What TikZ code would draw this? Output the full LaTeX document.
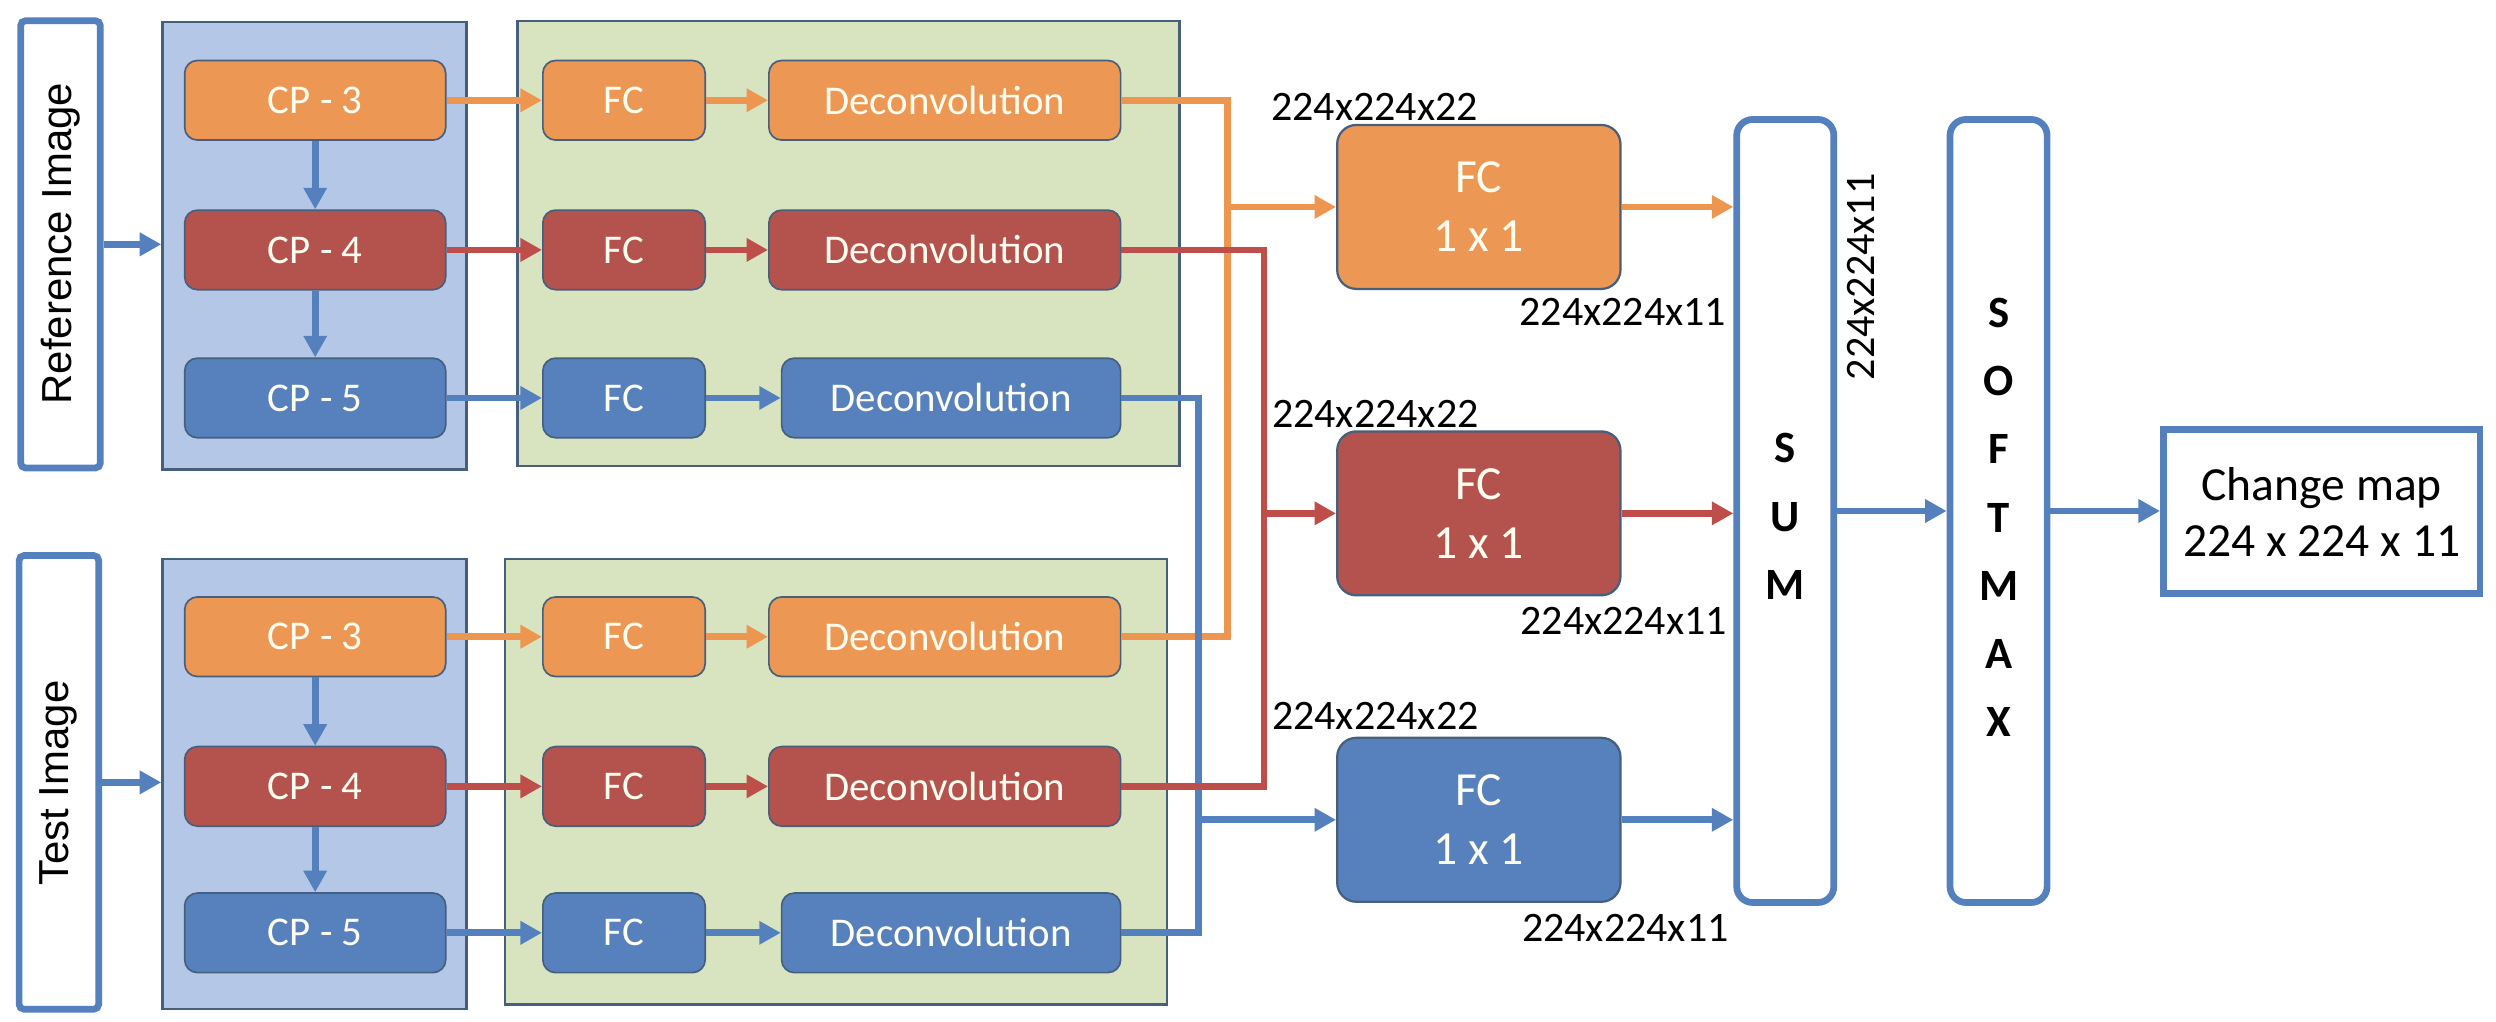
\documentclass[tikz,border=0pt]{standalone}
\usepackage{fontspec}
\setmainfont{Carlito}
\newfontfamily\arialf{Liberation Sans}
\usetikzlibrary{arrows.meta}
\definecolor{orF}{RGB}{236,152,84}
\definecolor{rdF}{RGB}{180,83,78}
\definecolor{blF}{RGB}{87,129,188}
\definecolor{orL}{RGB}{237,150,80}
\definecolor{rdL}{RGB}{190,78,74}
\definecolor{blL}{RGB}{84,128,190}
\definecolor{panB}{RGB}{181,199,230}
\definecolor{panG}{RGB}{216,228,192}
\definecolor{edgeC}{RGB}{70,95,125}
\definecolor{txtW}{RGB}{255,252,240}
\begin{document}
\begin{tikzpicture}[x=0.02cm,y=-0.02cm,
  blk/.style={draw=edgeC, line width=0.6pt, rounded corners=0.16cm, text=txtW,
    font=\fontsize{14.6}{16}\selectfont, inner sep=0pt, minimum height=1.0cm},
  cpbox/.style={blk, minimum width=3.28cm},
  fcbox/.style={blk, minimum width=2.04cm},
  dcbox/.style={blk, minimum width=4.42cm},
  dcboxb/.style={blk, minimum width=4.26cm},
  bigfc/.style={draw=edgeC, line width=0.8pt, rounded corners=0.24cm, text=txtW,
    minimum width=3.56cm, minimum height=2.06cm, inner sep=0pt, align=center,
    font=\fontsize{17}{21}\selectfont},
  panel/.style={draw=edgeC, line width=0.8pt, inner sep=0pt},
  outl/.style={draw=blL, line width=2.4pt, fill=white, inner sep=0pt},
  ln/.style={line width=2.4pt},
  arr/.style={line width=2.4pt, -{Triangle[length=7.7pt,width=8pt]}},
  lab/.style={font=\fontsize{15}{18}\selectfont, text=black, inner sep=0pt},
  bigl/.style={font=\bfseries\fontsize{16}{24.4}\selectfont, align=center, inner sep=0pt}
]
\useasboundingbox (0,0) rectangle (1568,642);

% input boxes
\node[outl, rounded corners=0.06cm, minimum width=1.0cm, minimum height=5.62cm] (refimg) at (38,153.5) {};
\node[rotate=90, font=\arialf\fontsize{15}{18}\selectfont] (reftxt) at (38,153) {Reference Image};
\node[outl, rounded corners=0.06cm, minimum width=1.0cm, minimum height=5.7cm] (testimg) at (37,491.5) {};
\node[rotate=90, font=\arialf\fontsize{15}{18}\selectfont] (testtxt) at (37,492) {Test Image};

% panels
\node[panel, fill=panB, minimum width=3.82cm, minimum height=5.62cm] (pb1) at (197.5,154.5) {};
\node[panel, fill=panG, minimum width=8.32cm, minimum height=5.6cm] (pg1) at (533,153) {};
\node[panel, fill=panB, minimum width=3.82cm, minimum height=5.66cm] (pb2) at (197.5,492.5) {};
\node[panel, fill=panG, minimum width=8.32cm, minimum height=5.6cm] (pg2) at (525,491) {};

% top rows
\node[cpbox, fill=orF] (r3a) at (198,63) {CP - 3};
\node[cpbox, fill=rdF] (r4a) at (198,157) {CP - 4};
\node[cpbox, fill=blF] (r5a) at (198,250) {CP - 5};
\node[fcbox, fill=orF] (f3a) at (392,63) {FC};
\node[fcbox, fill=rdF] (f4a) at (392,157) {FC};
\node[fcbox, fill=blF] (f5a) at (392,250) {FC};
\node[dcbox, fill=orF] (d3a) at (593.5,63) {Deconvolution};
\node[dcbox, fill=rdF] (d4a) at (593.5,157) {Deconvolution};
\node[dcboxb, fill=blF] (d5a) at (597.5,250) {Deconvolution};

% bottom rows
\node[cpbox, fill=orF] (r3b) at (198,400) {CP - 3};
\node[cpbox, fill=rdF] (r4b) at (198,494) {CP - 4};
\node[cpbox, fill=blF] (r5b) at (198,586) {CP - 5};
\node[fcbox, fill=orF] (f3b) at (392,400) {FC};
\node[fcbox, fill=rdF] (f4b) at (392,494) {FC};
\node[fcbox, fill=blF] (f5b) at (392,586) {FC};
\node[dcbox, fill=orF] (d3b) at (593.5,400) {Deconvolution};
\node[dcbox, fill=rdF] (d4b) at (593.5,494) {Deconvolution};
\node[dcboxb, fill=blF] (d5b) at (597.5,586) {Deconvolution};

% FC 1x1 boxes
\node[bigfc, fill=orF] (fo) at (929,130) {FC\\1 x 1};
\node[bigfc, fill=rdF] (fr) at (929,322.5) {FC\\1 x 1};
\node[bigfc, fill=blF] (fb) at (929,515) {FC\\1 x 1};

% SUM, SOFTMAX, output
\node[outl, rounded corners=0.2cm, minimum width=1.22cm, minimum height=9.84cm] (sum) at (1121.5,321) {};
\node[bigl] (sumtxt) at (1121.5,324.5) {S\\U\\M};
\node[outl, rounded corners=0.2cm, minimum width=1.22cm, minimum height=9.84cm] (soft) at (1255.5,321) {};
\node[bigl] (softtxt) at (1255.5,325) {S\\O\\F\\T\\M\\A\\X};
\node[outl, minimum width=3.98cm, minimum height=2.06cm, align=center,
  font=\fontsize{17}{20}\selectfont] (cmap) at (1458.5,321.5) {Change map\\224 x 224 x 11};

% labels
\node[lab] (l22a) at (863.5,67) {224x224x22};
\node[lab] (l22b) at (864,260) {224x224x22};
\node[lab] (l22c) at (864,450) {224x224x22};
\node[lab] (l11a) at (1019.5,196) {224x224x11};
\node[lab] (l11b) at (1020,390) {224x224x11};
\node[lab] (l11c) at (1021,583) {224x224x11};
\node[lab, rotate=90] (l11s) at (1169,174) {224x224x11};

% junction coordinates
\coordinate (jo) at (771,0);
\coordinate (jr) at (794,0);
\coordinate (jb) at (753,0);

% input arrows
\draw[arr, blL] (refimg.east) -- (refimg.east -| pb1.west);
\draw[arr, blL] (testimg.east) -- (testimg.east -| pb2.west);

% vertical arrows
\draw[arr, blL] (r3a.south) -- (r4a.north);
\draw[arr, blL] (r4a.south) -- (r5a.north);
\draw[arr, blL] (r3b.south) -- (r4b.north);
\draw[arr, blL] (r4b.south) -- (r5b.north);

% row arrows
\draw[arr, orL] (r3a.east) -- (f3a.west);
\draw[arr, orL] (f3a.east) -- (d3a.west);
\draw[arr, rdL] (r4a.east) -- (f4a.west);
\draw[arr, rdL] (f4a.east) -- (d4a.west);
\draw[arr, blL] (r5a.east) -- (f5a.west);
\draw[arr, blL] (f5a.east) -- (d5a.west);
\draw[arr, orL] (r3b.east) -- (f3b.west);
\draw[arr, orL] (f3b.east) -- (d3b.west);
\draw[arr, rdL] (r4b.east) -- (f4b.west);
\draw[arr, rdL] (f4b.east) -- (d4b.west);
\draw[arr, blL] (r5b.east) -- (f5b.west);
\draw[arr, blL] (f5b.east) -- (d5b.west);

% merging lines
\draw[ln, orL] (d3a.east) -| (jo |- d3b.east) -- (d3b.east);
\draw[arr, orL] (jo |- fo.west) -- (fo.west);
\draw[ln, blL] (d5a.east) -| (jb |- d5b.east) -- (d5b.east);
\draw[arr, blL] (jb |- fb.west) -- (fb.west);
\draw[ln, rdL] (d4a.east) -| (jr |- d4b.east) -- (d4b.east);
\draw[arr, rdL] (jr |- fr.west) -- (fr.west);

% to SUM
\draw[arr, orL] (fo.east) -- (fo.east -| sum.west);
\draw[arr, rdL] (fr.east) -- (fr.east -| sum.west);
\draw[arr, blL] (fb.east) -- (fb.east -| sum.west);
\draw[arr, blL] (sum.east) -- (sum.east -| soft.west);
\draw[arr, blL] (soft.east) -- (soft.east -| cmap.west);
\end{tikzpicture}
\end{document}
